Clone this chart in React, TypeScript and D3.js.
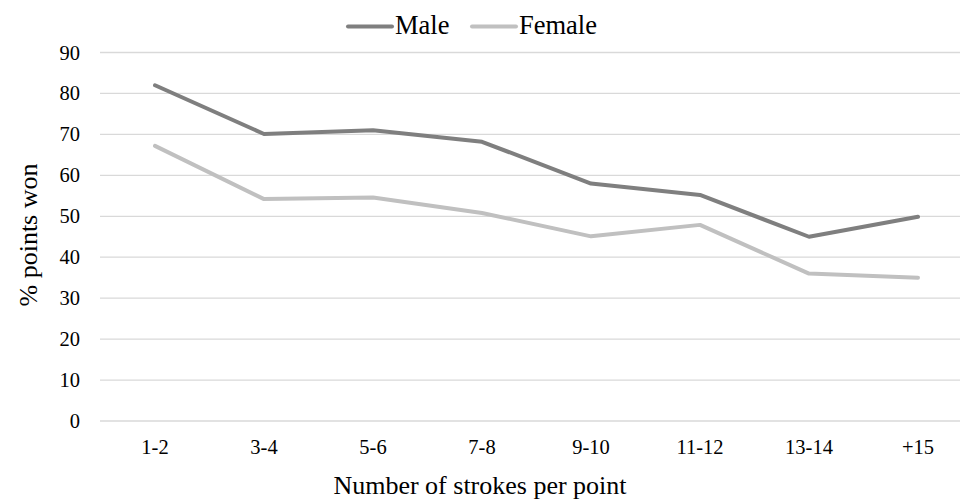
import { useEffect, useRef } from 'react'
import * as d3 from 'd3'

const categories = ['1-2', '3-4', '5-6', '7-8', '9-10', '11-12', '13-14', '+15']
const maleValues = [82, 70.1, 71, 68.2, 58, 55.2, 45, 49.9]
const femaleValues = [67.2, 54.2, 54.6, 50.8, 45.1, 47.9, 36, 35]
const yTicks = [0, 10, 20, 30, 40, 50, 60, 70, 80, 90]
const seriesNames = ['Male', 'Female']
const seriesColors = ['#7f7f7f', '#c0c0c0']

const W = 960
const H = 501
const FONT = 'Liberation Serif'

export default function App() {
  const ref = useRef<SVGSVGElement>(null)

  useEffect(() => {
    const svg = d3.select(ref.current)
    svg.selectAll('*').remove()

    const x = d3.scalePoint<string>().domain(categories).range([155, 918])
    const y = d3.scaleLinear().domain([0, 90]).range([421, 52.5])
    const line = d3
      .line<number>()
      .x((_d: number, i: number) => x(categories[i]) ?? 0)
      .y((d: number) => y(d))

    // gridlines + y labels
    const g = svg.append('g')
    g.selectAll('line.grid')
      .data(yTicks)
      .join('line')
      .attr('x1', 100)
      .attr('x2', W)
      .attr('y1', (d: number) => y(d))
      .attr('y2', (d: number) => y(d))
      .attr('stroke', '#d9d9d9')
      .attr('stroke-width', 1.3)

    g.selectAll('text.ytick')
      .data(yTicks)
      .join('text')
      .attr('x', 80)
      .attr('y', (d: number) => y(d) + 7)
      .attr('text-anchor', 'end')
      .style('font-family', FONT)
      .style('font-size', '20.5px')
      .text((d: number) => String(d))

    g.selectAll('text.xtick')
      .data(categories)
      .join('text')
      .attr('x', (d: string) => x(d) ?? 0)
      .attr('y', 454)
      .attr('text-anchor', 'middle')
      .style('font-family', FONT)
      .style('font-size', '20.5px')
      .text((d: string) => d)

    const series = [maleValues, femaleValues]
    series.forEach((vals, i) => {
      svg
        .append('path')
        .attr('d', line(vals) ?? '')
        .attr('fill', 'none')
        .attr('stroke', seriesColors[i])
        .attr('stroke-width', 4)
        .attr('stroke-linejoin', 'round')
        .attr('stroke-linecap', 'round')
    })

    // legend
    const legendX = [346, 470]
    seriesNames.forEach((name, i) => {
      svg
        .append('line')
        .attr('x1', legendX[i] + 2)
        .attr('x2', legendX[i] + 46)
        .attr('y1', 26.5)
        .attr('y2', 26.5)
        .attr('stroke', seriesColors[i])
        .attr('stroke-width', 4)
        .attr('stroke-linecap', 'round')
      svg
        .append('text')
        .attr('x', legendX[i] + 49)
        .attr('y', 33.5)
        .style('font-family', FONT)
        .style('font-size', '26.5px')
        .text(name)
    })

    // axis titles
    svg
      .append('text')
      .attr('x', 480)
      .attr('y', 494)
      .attr('text-anchor', 'middle')
      .style('font-family', FONT)
      .style('font-size', '26px')
      .text('Number of strokes per point')

    svg
      .append('text')
      .attr('transform', 'translate(37,235) rotate(-90)')
      .attr('text-anchor', 'middle')
      .style('font-family', FONT)
      .style('font-size', '26px')
      .text('% points won')
  }, [])

  return (
    <svg
      ref={ref}
      width={W}
      height={H}
      style={{ position: 'absolute', left: 0, top: 0, background: '#fff' }}
    />
  )
}
